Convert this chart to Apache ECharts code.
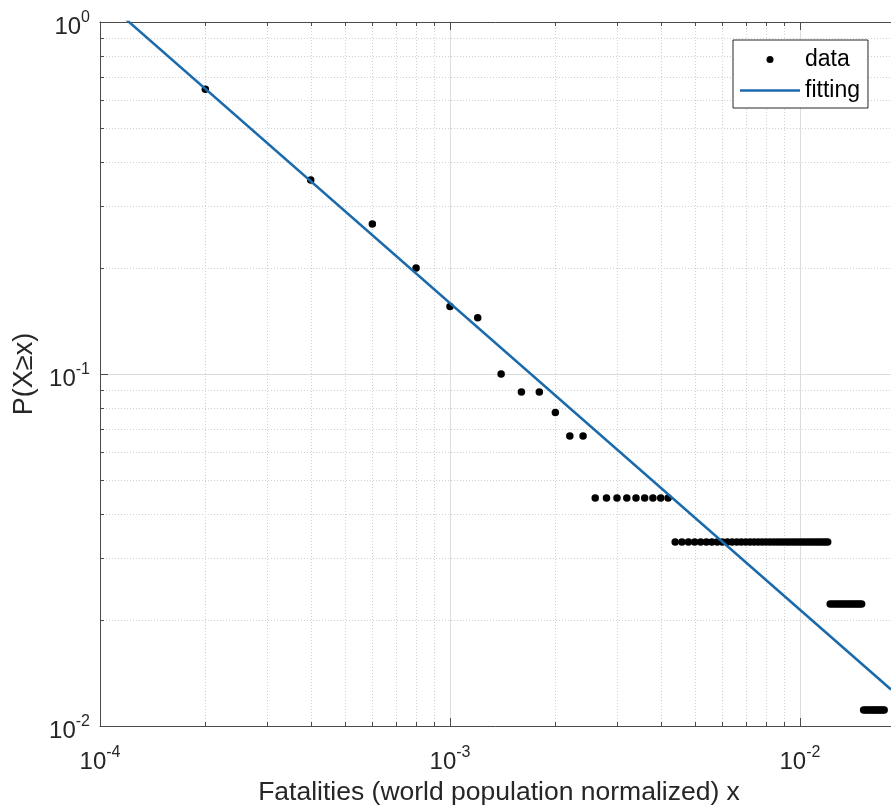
<!DOCTYPE html>
<html>
<head>
<meta charset="utf-8">
<script src="https://cdn.jsdelivr.net/npm/echarts@6/dist/echarts.min.js"></script>
<style>
html,body{margin:0;padding:0;background:#fff;}
#chart{width:891px;height:811px;}
</style>
</head>
<body>
<div id="chart"></div>
<script>
// ---- data ----
var dataX = [
  0.0002, 0.0004, 0.0006, 0.0008, 0.0010, 0.0012, 0.0014, 0.0016, 0.0018, 0.0020, 0.0022, 0.0024,
  0.0026, 0.0028, 0.0030, 0.0032, 0.0034, 0.0036, 0.0038, 0.0040, 0.0042,
  0.0044, 0.0046, 0.0048, 0.0050, 0.0052, 0.0054, 0.0056, 0.0058, 0.0060, 0.0062, 0.0064, 0.0066, 0.0068,
  0.0070, 0.0072, 0.0074, 0.0076, 0.0078, 0.0080, 0.0082, 0.0084, 0.0086, 0.0088, 0.0090, 0.0092, 0.0094,
  0.0096, 0.0098, 0.0100, 0.0102, 0.0104, 0.0106, 0.0108, 0.0110, 0.0112, 0.0114, 0.0116, 0.0118, 0.0120,
  0.0122, 0.0124, 0.0126, 0.0128, 0.0130, 0.0132, 0.0134, 0.0136, 0.0138, 0.0140, 0.0142, 0.0144, 0.0146,
  0.0148, 0.0150,
  0.0152, 0.0154, 0.0156, 0.0158, 0.0160, 0.0162, 0.0164, 0.0166, 0.0168, 0.0170, 0.0172, 0.0174
];
var dataY = [
  0.644, 0.3556, 0.2667, 0.2, 0.1556, 0.1444, 0.1, 0.0889, 0.0889, 0.0778, 0.0667, 0.0667,
  0.0444, 0.0444, 0.0444, 0.0444, 0.0444, 0.0444, 0.0444, 0.0444, 0.0444,
  0.0333, 0.0333, 0.0333, 0.0333, 0.0333, 0.0333, 0.0333, 0.0333, 0.0333, 0.0333, 0.0333, 0.0333, 0.0333,
  0.0333, 0.0333, 0.0333, 0.0333, 0.0333, 0.0333, 0.0333, 0.0333, 0.0333, 0.0333, 0.0333, 0.0333, 0.0333,
  0.0333, 0.0333, 0.0333, 0.0333, 0.0333, 0.0333, 0.0333, 0.0333, 0.0333, 0.0333, 0.0333, 0.0333, 0.0333,
  0.0222, 0.0222, 0.0222, 0.0222, 0.0222, 0.0222, 0.0222, 0.0222, 0.0222, 0.0222, 0.0222, 0.0222, 0.0222,
  0.0222, 0.0222,
  0.0111, 0.0111, 0.0111, 0.0111, 0.0111, 0.0111, 0.0111, 0.0111, 0.0111, 0.0111, 0.0111, 0.0111
];
// fitted power-law line, endpoints
var fitX = [0.0001, 0.0182];
var fitY = [1.181, 0.0127];

var X_MIN = 0.0001, X_MAX = 0.0182;
var Y_MIN = 0.01, Y_MAX = 1;
var xDecades = [0.0001, 0.001, 0.01];
var yDecades = [0.01, 0.1];
var minorMultipliers = [2, 3, 4, 5, 6, 7, 8, 9];
var seriesNames = ['data', 'fitting'];
var xTitle = 'Fatalities (world population normalized) x';
var yTitle = 'P(X\u2265x)';

// ---- build ----
var FONT = '"Liberation Sans", Arial, Helvetica, sans-serif';
var TXT = '#262626';
var AXC = '#4a4a4a';

var scatterData = dataX.map(function (x, i) { return [x, dataY[i]]; });
var fitData = fitX.map(function (x, i) { return [x, fitY[i]]; });

var minorX = [];
xDecades.forEach(function (d) {
  minorMultipliers.forEach(function (m) {
    var v = d * m;
    if (v < X_MAX) minorX.push([v, Y_MIN]);
  });
});
var minorY = [];
yDecades.forEach(function (d) {
  minorMultipliers.forEach(function (m) {
    var v = d * m;
    if (v < Y_MAX) minorY.push([X_MIN, v]);
  });
});

function powLabel(v) {
  var e = Math.log(v) / Math.LN10;
  var r = Math.round(e);
  if (Math.abs(e - r) > 1e-6) return '';
  return '{b|10}{s|' + r + '}';
}
var richLabel = {
  b: { fontSize: 24, fontFamily: FONT, color: TXT },
  s: { fontSize: 16, fontFamily: FONT, color: TXT, padding: [0, 0, 18, 0] }
};

function renderMinorX(params, api) {
  var cs = params.coordSys;
  var p = api.coord([api.value(0), api.value(1)]);
  var x = Math.round(p[0]) + 0.5;
  var top = cs.y, bottom = cs.y + cs.height;
  return {
    type: 'group',
    children: [
      { type: 'line', shape: { x1: x, y1: top, x2: x, y2: bottom },
        style: { stroke: '#d0d0d0', lineWidth: 1, lineDash: [1, 2] } },
      { type: 'line', shape: { x1: x, y1: bottom, x2: x, y2: bottom - 4 },
        style: { stroke: AXC, lineWidth: 1 } },
      { type: 'line', shape: { x1: x, y1: top, x2: x, y2: top + 4 },
        style: { stroke: AXC, lineWidth: 1 } }
    ]
  };
}
function renderMinorY(params, api) {
  var cs = params.coordSys;
  var p = api.coord([api.value(0), api.value(1)]);
  var y = Math.round(p[1]) + 0.5;
  var left = cs.x, right = cs.x + cs.width;
  return {
    type: 'group',
    children: [
      { type: 'line', shape: { x1: left, y1: y, x2: right, y2: y },
        style: { stroke: '#d0d0d0', lineWidth: 1, lineDash: [1, 2] } },
      { type: 'line', shape: { x1: left, y1: y, x2: left + 4, y2: y },
        style: { stroke: AXC, lineWidth: 1 } }
    ]
  };
}

var chart = echarts.init(document.getElementById('chart'), null, { renderer: 'canvas' });
chart.setOption({
  animation: false,
  backgroundColor: '#ffffff',
  grid: { left: 100, right: 0, top: 22, bottom: 85, containLabel: false },
  legend: {
    data: [
      { name: seriesNames[0], icon: 'circle' },
      { name: seriesNames[1], icon: 'path://M0,0L24,0L24,1L0,1Z' }
    ],
    orient: 'vertical',
    left: 733, top: 40,
    padding: [8, 8, 6, 7],
    itemGap: 8,
    itemWidth: 60,
    itemHeight: 7,
    symbolKeepAspect: true,
    backgroundColor: '#ffffff',
    borderColor: '#262626',
    borderWidth: 1,
    borderRadius: 0,
    selectedMode: false,
    textStyle: { fontSize: 23, fontFamily: FONT, color: '#000' }
  },
  xAxis: [{
    type: 'log', logBase: 10, min: X_MIN, max: X_MAX,
    position: 'bottom',
    name: xTitle, nameLocation: 'middle', nameGap: 52,
    nameTextStyle: { fontSize: 26.5, fontFamily: FONT, color: TXT, padding: [0, 0, 0, 7] },
    axisLine: { show: true, lineStyle: { color: AXC, width: 1 } },
    axisTick: { show: true, inside: true, length: 8, lineStyle: { color: AXC, width: 1 } },
    axisLabel: { formatter: powLabel, rich: richLabel, margin: 19, showMaxLabel: false },
    splitLine: { show: true, lineStyle: { color: '#dcdcdc', width: 1 } },
    minorTick: { show: false }, minorSplitLine: { show: false }
  }, {
    type: 'log', logBase: 10, min: X_MIN, max: X_MAX,
    position: 'top',
    axisLine: { show: true, lineStyle: { color: AXC, width: 1 } },
    axisTick: { show: true, inside: true, length: 8, lineStyle: { color: AXC, width: 1 } },
    axisLabel: { show: false },
    splitLine: { show: false }
  }],
  yAxis: [{
    type: 'log', logBase: 10, min: Y_MIN, max: Y_MAX,
    position: 'left',
    name: yTitle, nameLocation: 'middle', nameGap: 60,
    nameTextStyle: { fontSize: 27, fontFamily: FONT, color: TXT },
    axisLine: { show: true, lineStyle: { color: AXC, width: 1 } },
    axisTick: { show: true, inside: true, length: 8, lineStyle: { color: AXC, width: 1 } },
    axisLabel: { formatter: powLabel, rich: richLabel, margin: 10, padding: [10, 0, 0, 0] },
    splitLine: { show: true, lineStyle: { color: '#dcdcdc', width: 1 } }
  }],
  series: [
    {
      type: 'custom', name: 'minorX', z: 1, silent: true,
      renderItem: renderMinorX, data: minorX, encode: { x: 0, y: 1 }
    },
    {
      type: 'custom', name: 'minorY', z: 1, silent: true,
      renderItem: renderMinorY, data: minorY, encode: { x: 0, y: 1 }
    },
    {
      name: seriesNames[0], type: 'scatter', z: 3,
      data: scatterData, symbol: 'circle', symbolSize: 7.5,
      itemStyle: { color: '#000000', opacity: 1 }
    },
    {
      name: seriesNames[1], type: 'line', z: 4,
      data: fitData, symbol: 'none', showSymbol: false, clip: true,
      lineStyle: { color: '#1a6aab', width: 2.5 },
      itemStyle: { color: '#1a6aab' }
    }
  ]
});
</script>
</body>
</html>
